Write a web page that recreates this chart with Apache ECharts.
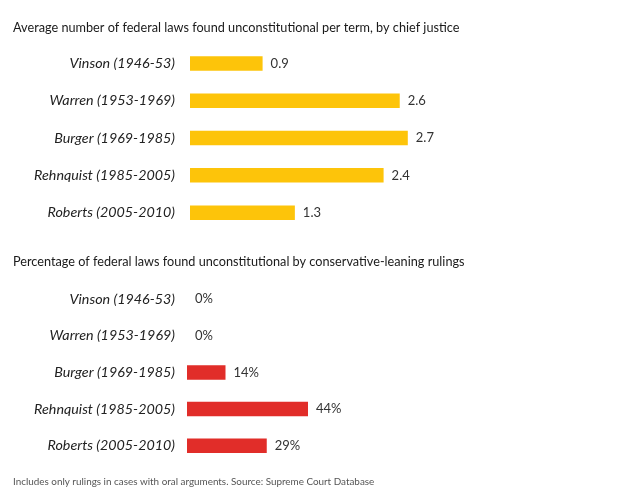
<!DOCTYPE html>
<html><head><meta charset="utf-8">
<script src="https://cdn.jsdelivr.net/npm/echarts@6/dist/echarts.min.js"></script>
<style>html,body{margin:0;padding:0;background:#fff}#c{width:630px;height:504px}</style>
</head><body><div id="c"></div>
<script>
const justices = ['Vinson (1946-53)','Warren (1953-1969)','Burger (1969-1985)','Rehnquist (1985-2005)','Roberts (2005-2010)'];
const avgLaws = [0.9, 2.6, 2.7, 2.4, 1.3];
const pctConservative = [0, 0, 14, 44, 29];
const title1 = 'Average number of federal laws found unconstitutional per term, by chief justice';
const title2 = 'Percentage of federal laws found unconstitutional by conservative-leaning rulings';
const footer = 'Includes only rulings in cases with oral arguments. Source: Supreme Court Database';

const FONT = 'Lato';
const chart = echarts.init(document.getElementById('c'), null, {renderer:'canvas'});
const catAxis = (gi, margin) => ({
  type:'category', gridIndex:gi, data:justices, inverse:true,
  axisLine:{show:false}, axisTick:{show:false},
  axisLabel:{margin:margin, fontFamily:FONT, fontStyle:'italic', fontSize:14.3, color:'#222'}
});
chart.setOption({
  animation:false,
  title:[
    {text:title1, left:8, top:16, textStyle:{fontFamily:FONT, fontSize:12.7, fontWeight:'normal', color:'#1a1a1a'}},
    {text:title2, left:8, top:250, textStyle:{fontFamily:FONT, fontSize:12.7, fontWeight:'normal', color:'#1a1a1a'}},
    {text:footer, left:8, top:472, textStyle:{fontFamily:FONT, fontSize:9.9, fontWeight:'normal', color:'#555'}}
  ],
  grid:[
    {left:190, top:44.8, width:242, height:186.5},
    {left:187, top:280.7, width:275, height:183.4}
  ],
  xAxis:[
    {type:'value', gridIndex:0, min:0, max:3, show:false},
    {type:'value', gridIndex:1, min:0, max:100, show:false}
  ],
  yAxis:[catAxis(0,15), catAxis(1,12)],
  series:[
    {type:'bar', xAxisIndex:0, yAxisIndex:0, data:avgLaws, barWidth:14.5,
     itemStyle:{color:'#FDC40A'},
     label:{show:true, position:'right', distance:8, fontFamily:FONT, fontSize:13, color:'#333'}},
    {type:'bar', xAxisIndex:1, yAxisIndex:1, data:pctConservative, barWidth:14.5,
     itemStyle:{color:'#E12D29'},
     label:{show:true, position:'right', distance:8, fontFamily:FONT, fontSize:13, color:'#333', formatter:p=>p.value+'%'}}
  ]
});
</script></body></html>
